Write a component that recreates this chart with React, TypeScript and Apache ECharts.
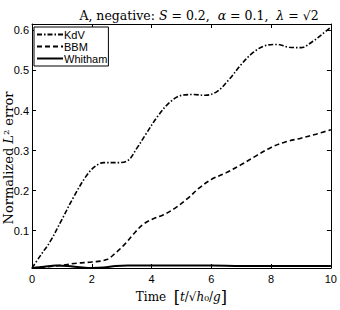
import React, { useEffect, useRef } from "react";
import * as echarts from "echarts";

const kdvTime = [0, 0.3, 0.6, 1.0, 1.4, 1.8, 2.1, 2.4, 2.8, 3.2, 3.5, 3.8, 4.2, 4.6, 5.0, 5.4, 5.8, 6.2, 6.6, 7.0, 7.4, 7.8, 8.2, 8.6, 9.0, 9.4, 9.7, 10];
const kdvValues = [0.007, 0.04, 0.072, 0.128, 0.185, 0.235, 0.26, 0.27, 0.27, 0.275, 0.305, 0.34, 0.385, 0.42, 0.438, 0.44, 0.438, 0.448, 0.478, 0.515, 0.545, 0.562, 0.565, 0.558, 0.557, 0.573, 0.59, 0.608];

const bbmTime = [0, 0.5, 1.0, 1.5, 2.0, 2.5, 2.8, 3.1, 3.4, 3.7, 4.0, 4.4, 4.8, 5.2, 5.6, 6.0, 6.5, 7.0, 7.5, 8.0, 8.5, 9.0, 9.5, 10];
const bbmValues = [0.007, 0.01, 0.014, 0.019, 0.022, 0.028, 0.045, 0.066, 0.092, 0.115, 0.128, 0.14, 0.157, 0.18, 0.207, 0.228, 0.245, 0.265, 0.287, 0.308, 0.322, 0.331, 0.341, 0.352];

const whithamTime = [0, 0.4, 0.8, 1.2, 1.6, 2.0, 2.4, 2.8, 3.2, 4, 5, 6, 7, 8, 9, 10];
const whithamValues = [0.007, 0.01, 0.013, 0.012, 0.009, 0.007, 0.008, 0.012, 0.013, 0.013, 0.013, 0.013, 0.012, 0.012, 0.012, 0.012];

const seriesNames = ["KdV", "BBM", "Whitham"];
const yTicks = [0.1, 0.2, 0.3, 0.4, 0.5, 0.6];

const zip = (t: number[], v: number[]) => t.map((x, i) => [x, v[i]]);

export default function App() {
  const ref = useRef<HTMLDivElement>(null);
  useEffect(() => {
    if (!ref.current) return;
    const chart = echarts.init(ref.current, undefined, { renderer: "svg" });
    const serif = "DejaVu Serif";
    const sans = "Liberation Sans";
    const axisCommon = {
      axisLine: { show: true, onZero: false, lineStyle: { color: "#000", width: 1 } },
      axisTick: { show: true, inside: true, length: 4, lineStyle: { color: "#000" } },
      splitLine: { show: false },
    };
    chart.setOption({
      animation: false,
      backgroundColor: "#fff",
      title: {
        text: "{n|A, negative: }{i|S}{n| = 0.2,  }{i|α}{n| = 0.1,  }{i|λ}{n| = √2}",
        left: 194,
        top: 4,
        textAlign: "center",
        textStyle: {
          fontWeight: "normal",
          rich: {
            n: { fontFamily: serif, fontSize: 12.5, fontWeight: "normal", color: "#000" },
            i: { fontFamily: serif, fontSize: 12.5, fontWeight: "normal", fontStyle: "italic", color: "#000" },
          },
        },
      },
      grid: { left: 32, right: 8, top: 24, bottom: 37, containLabel: false },
      legend: {
        data: seriesNames,
        orient: "vertical",
        left: 34,
        top: 27,
        itemWidth: 26,
        itemHeight: 10,
        itemGap: 1,
        padding: [2, 1, 2, 2],
        borderColor: "#000",
        borderWidth: 1,
        borderRadius: 0,
        backgroundColor: "#fff",
        itemStyle: { opacity: 0 },
        textStyle: { fontFamily: sans, fontSize: 11, color: "#000", padding: [0, 0, 0, -4] },
      },
      xAxis: [
        {
          type: "value",
          min: 0,
          max: 10,
          interval: 2,
          ...axisCommon,
          axisLabel: { fontFamily: sans, fontSize: 11, color: "#000", margin: 5 },
          name: "{n|Time  }{b|[}{i|t}{n|/√}{i|h}{n|₀/}{i|g}{b|]}",
          nameLocation: "middle",
          nameGap: 21,
          nameTextStyle: {
            rich: {
              n: { fontFamily: serif, fontSize: 12, color: "#000" },
              i: { fontFamily: serif, fontSize: 12, fontStyle: "italic", color: "#000" },
              b: { fontFamily: serif, fontSize: 16, color: "#000" },
            },
          },
        },
        {
          type: "value",
          position: "top",
          min: 0,
          max: 10,
          interval: 2,
          ...axisCommon,
          axisLabel: { show: false },
        },
      ],
      yAxis: [
        {
          type: "value",
          min: 0.007,
          max: 0.616,
          ...axisCommon,
          axisTick: { show: true, inside: true, length: 4, lineStyle: { color: "#000" }, customValues: yTicks },
          axisLabel: {
            fontFamily: sans,
            fontSize: 11,
            color: "#000",
            margin: 3,
            customValues: yTicks,
            formatter: (v: number) => String(Math.round(v * 10) / 10),
          },
        },
        {
          type: "value",
          position: "right",
          min: 0.007,
          max: 0.616,
          ...axisCommon,
          axisTick: { show: true, inside: true, length: 4, lineStyle: { color: "#000" }, customValues: yTicks },
          axisLabel: { show: false },
        },
      ],
      graphic: [
        {
          type: "text",
          x: 8,
          y: 158,
          rotation: Math.PI / 2,
          style: {
            text: "{n|Normalized }{i|L}{n|² error}",
            align: "center",
            verticalAlign: "middle",
            rich: {
              n: { fontFamily: serif, fontSize: 13, fill: "#000" },
              i: { fontFamily: serif, fontSize: 13, fontStyle: "italic", fill: "#000" },
            },
          },
        },
      ],
      series: [
        {
          name: "KdV",
          type: "line",
          data: zip(kdvTime, kdvValues),
          smooth: 0.35,
          showSymbol: false,
          symbol: "none",
          lineStyle: { color: "#000", width: 1.6, type: [5, 2, 1.5, 2] },
          itemStyle: { color: "#000" },
        },
        {
          name: "BBM",
          type: "line",
          data: zip(bbmTime, bbmValues),
          smooth: 0.35,
          showSymbol: false,
          symbol: "none",
          lineStyle: { color: "#000", width: 1.6, type: [5, 3] },
          itemStyle: { color: "#000" },
        },
        {
          name: "Whitham",
          type: "line",
          data: zip(whithamTime, whithamValues),
          smooth: 0.35,
          showSymbol: false,
          symbol: "none",
          lineStyle: { color: "#000", width: 2, type: "solid" },
          itemStyle: { color: "#000" },
        },
      ],
    });
    return () => chart.dispose();
  }, []);
  return (
    <div
      ref={ref}
      style={{ position: "fixed", left: 0, top: 0, width: 340, height: 310 }}
    />
  );
}
